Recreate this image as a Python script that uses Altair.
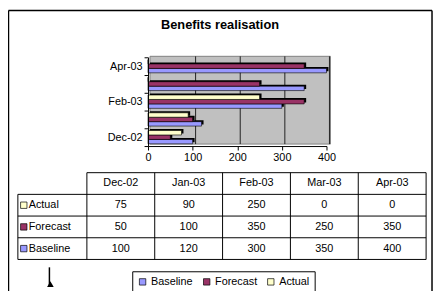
import altair as alt
import pandas as pd

# ---------------- data ----------------
months = ["Dec-02", "Jan-03", "Feb-03", "Mar-03", "Apr-03"]
series_names = ["Baseline", "Forecast", "Actual"]
baseline = [100, 120, 300, 350, 400]
forecast = [50, 100, 350, 250, 350]
actual = [75, 90, 250, 0, 0]
x_ticks = [0, 100, 200, 300, 400]
shown_month_labels = ["Dec-02", "Feb-03", "Apr-03"]
title_text = "Benefits realisation"
colors = ["#9999FF", "#993366", "#FFFFCC"]

rows = []
for s, vals in zip(series_names, [baseline, forecast, actual]):
    for m, v in zip(months, vals):
        rows.append({"month": m, "series": s, "value": v})
df = pd.DataFrame(rows)
row_order = ["Actual", "Forecast", "Baseline"]

# ---------------- layout (pixels, relative to plot origin) ----------------
FONT = "Liberation Sans"
W, H = 185, 91
PAD_L, PAD_T = 142, 47
TOTAL_W, TOTAL_H = 431, 283

color_scale = alt.Scale(domain=series_names, range=colors)
legend = alt.Legend(
    title=None, orient="none", legendX=-16, legendY=218, direction="horizontal",
    symbolType="square", symbolSize=42, symbolStrokeColor="black", symbolStrokeWidth=0.7,
    labelFont=FONT, labelFontSize=11, labelColor="black", labelOffset=3,
    columnPadding=8, padding=5, strokeColor="black", fillColor="white",
)
xs = alt.Scale(domain=[0, 400], range=[0, 181], nice=False)
ys = alt.Scale(domain=months[::-1], range=[1, 91], paddingInner=0, paddingOuter=0)
ys_depth = alt.Scale(domain=months[::-1], range=[-0.5, 89.5], paddingInner=0, paddingOuter=0)
yoff = alt.YOffset("series:N", scale=alt.Scale(domain=row_order, paddingInner=0, paddingOuter=0.5))

x_axis = alt.Axis(
    values=x_ticks, grid=False, domainColor="black", tickColor="black", tickSize=4,
    labelFont=FONT, labelFontSize=11, labelColor="black", labelPadding=2, title=None,
    labelFlush=False, zindex=1)
y_axis = alt.Axis(
    title=None, domainColor="black", tickColor="black", tickSize=4, tickBand="extent",
    labelExpr="indexof(" + str(shown_month_labels) + ", datum.value) >= 0 ? datum.value : ''",
    labelFont=FONT, labelFontSize=11, labelColor="black", labelPadding=2, zindex=1)

one = pd.DataFrame({"a": [0]})

wall = alt.Chart(one).mark_rect(fill="#C0C0C0", stroke="#808080", strokeWidth=1).encode(
    x=alt.value(2), x2=alt.value(185), y=alt.value(0), y2=alt.value(89)
)
grid = alt.Chart(pd.DataFrame({"v": x_ticks[1:]})).mark_rule(color="#222222", strokeWidth=1, xOffset=3).encode(
    x=alt.X("v:Q", scale=xs, axis=None), y=alt.value(0), y2=alt.value(89)
)
depth = alt.Chart(df).mark_bar(color="black", xOffset=2, x2Offset=2).encode(
    x=alt.X("value:Q", scale=xs, axis=None),
    y=alt.Y("month:N", scale=ys_depth, axis=None),
    yOffset=yoff,
)
bars = alt.Chart(df).mark_bar(stroke="black", strokeWidth=0.6).encode(
    x=alt.X("value:Q", scale=xs, axis=x_axis),
    y=alt.Y("month:N", scale=ys, axis=y_axis),
    yOffset=yoff,
    fill=alt.Fill("series:N", scale=color_scale, legend=legend),
)

# ---------------- table ----------------
TL, LC, TR = -132, -62, 282
R0, R1, RH = 118, 140, 22
cw = (TR - LC) / len(months)
lines = [{"x": LC, "x2": TR, "y": R0, "y2": R0}]
for k in range(4):
    y = R1 + k * RH
    lines.append({"x": TL, "x2": TR, "y": y, "y2": y})
lines.append({"x": TL, "x2": TL, "y": R1, "y2": R1 + 3 * RH})
for k in range(len(months) + 1):
    x = LC + k * cw
    lines.append({"x": x, "x2": x, "y": R0, "y2": R1 + 3 * RH})
# outer frame and pointer line
frame = [
    {"x": -141.5, "x2": 288, "y": -46.5, "y2": -46.5},
    {"x": -141.5, "x2": -141.5, "y": -46.5, "y2": 240},
    {"x": 288, "x2": 288, "y": -46.5, "y2": 240},
    {"x": -100, "x2": -100, "y": 214, "y2": 232},
]
grid_lines = alt.Chart(pd.DataFrame(lines)).mark_rule(color="black", strokeWidth=1).encode(
    x=alt.X("x:Q", scale=None), x2="x2:Q", y=alt.Y("y:Q", scale=None), y2="y2:Q"
)
frame_lines = alt.Chart(pd.DataFrame(frame)).mark_rule(color="black", strokeWidth=1.5).encode(
    x=alt.X("x:Q", scale=None), x2="x2:Q", y=alt.Y("y:Q", scale=None), y2="y2:Q"
)
arrow_head = alt.Chart(one).mark_point(shape="triangle-up", filled=True, color="black", size=45, opacity=1).encode(
    x=alt.value(-99), y=alt.value(231)
)

tx = alt.Scale(domain=months, range=[LC, TR], paddingInner=0, paddingOuter=0)
ty = alt.Scale(domain=row_order, range=[R1, R1 + 3 * RH], paddingInner=0, paddingOuter=0)

header = alt.Chart(pd.DataFrame({"month": months})).mark_text(font=FONT, fontSize=11, color="black").encode(
    x=alt.X("month:N", scale=tx, axis=None), y=alt.value(R0 + RH / 2), text="month:N"
)
cells = alt.Chart(df).mark_text(font=FONT, fontSize=11, color="black").encode(
    x=alt.X("month:N", scale=tx, axis=None), y=alt.Y("series:N", scale=ty, axis=None), text="value:Q"
)
row_labels = alt.Chart(pd.DataFrame({"series": series_names})).mark_text(
    font=FONT, fontSize=11, color="black", align="left").encode(
    x=alt.value(-121), y=alt.Y("series:N", scale=ty, axis=None), text="series:N"
)
swatches = alt.Chart(pd.DataFrame({"series": series_names})).mark_point(
    shape="square", filled=True, size=42, stroke="black", strokeWidth=0.7, opacity=1).encode(
    x=alt.value(-126), y=alt.Y("series:N", scale=ty, axis=None),
    fill=alt.Fill("series:N", scale=color_scale, legend=legend),
)
title = alt.Chart(pd.DataFrame({"t": [title_text]})).mark_text(
    font=FONT, fontSize=13, fontWeight="bold", color="black").encode(
    x=alt.value(73), y=alt.value(-32), text="t:N"
)

chart = alt.layer(
    wall, grid, depth, bars, grid_lines, frame_lines, arrow_head,
    header, cells, row_labels, swatches, title,
).resolve_scale(x="independent", y="independent").properties(
    width=W, height=H, autosize="none",
    padding={"left": PAD_L, "top": PAD_T, "right": TOTAL_W - PAD_L - W, "bottom": TOTAL_H - PAD_T - H},
    background="white",
).configure_view(stroke=None)

chart.save("out.html", embed_options={"renderer": "svg", "actions": False})
